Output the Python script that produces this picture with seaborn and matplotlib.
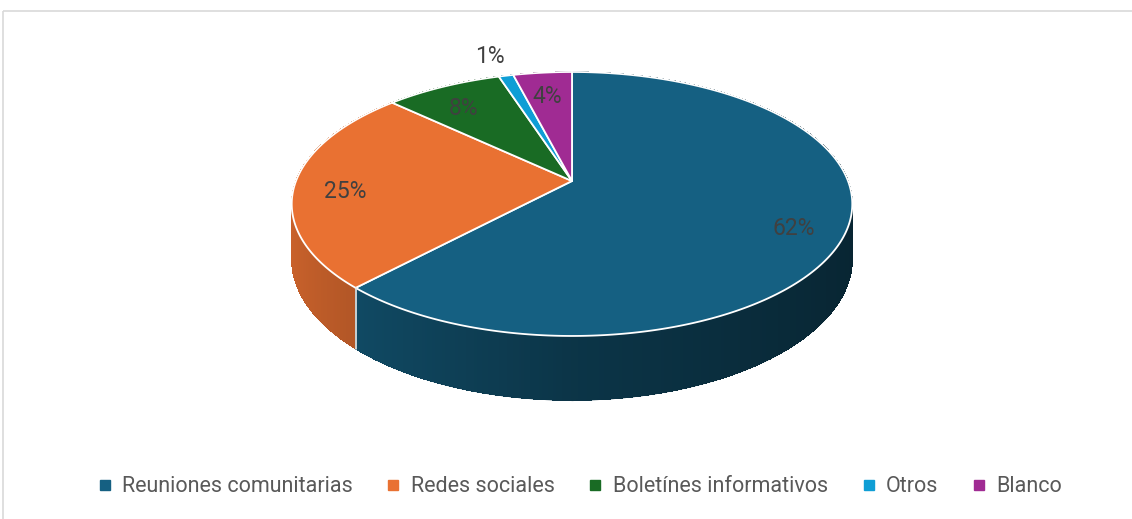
import numpy as np
import matplotlib
matplotlib.use("Agg")
import matplotlib.pyplot as plt
import matplotlib.colors as mcolors
from matplotlib.patches import Polygon, Rectangle
from matplotlib.collections import PolyCollection
from matplotlib.lines import Line2D
import seaborn as sns

# datos del grafico
categorias = ["Reuniones comunitarias", "Redes sociales", "Boletínes informativos", "Otros", "Blanco"]
porcentajes = [62, 25, 8, 1, 4]
colores = ["#156082", "#E97132", "#196B24", "#0F9ED5", "#A02B93"]

sns.set_theme(style="white")
plt.rcParams["font.family"] = ["Roboto", "DejaVu Sans"]

fig = plt.figure(figsize=(11.32, 5.19), dpi=100)
ax = fig.add_axes([0, 0, 1, 1])
ax.set_xlim(0, 1132)
ax.set_ylim(519, 0)
ax.axis("off")

# marco del grafico
ax.add_patch(Rectangle((3, 11), 1300, 700, fill=False, edgecolor="#d9d9d9", lw=1.2))

# pastel 3D con perspectiva (angulo medido en sentido horario desde arriba)
cx, cy = 572, 181
A, B, p, H = 128, 276, 0.174, 53


def proj(theta, drop=0.0, r=1.0):
    u, v = np.cos(theta), np.sin(theta)
    w = 1 + p * r * u
    return cx + r * B * v / w, cy - r * A * u / w + H * drop / w


def sombra(v):
    return np.interp(v, [-1, -0.7, 0, 0.9, 1], [0.87, 0.77, 0.55, 0.40, 0.38])


fr = np.array(porcentajes, dtype=float) / sum(porcentajes)
bordes = np.concatenate([[0], np.cumsum(fr)]) * 2 * np.pi

# paredes laterales
quads = []
for i, col in enumerate(colores):
    rgb = np.array(mcolors.to_rgb(col))
    t = np.linspace(bordes[i], bordes[i + 1], max(3, int(fr[i] * 720)))
    for a, b in zip(t[:-1], t[1:]):
        m = 0.5 * (a + b)
        pts = [proj(a), proj(b), proj(b, 1), proj(a, 1)]
        c = np.clip(rgb * sombra(np.sin(m)), 0, 1)
        quads.append((np.cos(m), pts, c))
quads.sort(key=lambda q: -q[0])
ax.add_collection(PolyCollection([q[1] for q in quads], facecolors=[q[2] for q in quads],
                                 edgecolors=[q[2] for q in quads], linewidths=0.3,
                                 antialiased=False))
# contorno inferior suavizado
tb = np.linspace(np.pi / 2 + 0.45, 3 * np.pi / 2 - 0.45, 400)
for i, col in enumerate(colores):
    seg = tb[(tb >= bordes[i]) & (tb <= bordes[i + 1])]
    if len(seg) > 1:
        xy = np.array([proj(a, 1) for a in seg])
        c = [np.clip(np.array(mcolors.to_rgb(col)) * sombra(np.sin(a)), 0, 1) for a in seg]
        for j in range(len(seg) - 1):
            ax.plot(xy[j:j + 2, 0], xy[j:j + 2, 1], color=c[j], lw=0.8, solid_capstyle="butt")

# separadores en la pared frontal
for b in bordes[1:-1]:
    if np.cos(b) < -p:
        x0, y0 = proj(b)
        x1, y1 = proj(b, 1)
        ax.plot([x0, x1], [y0, y1], color="#e8e8e8", lw=1.2)

# caras superiores
for i, col in enumerate(colores):
    t = np.linspace(bordes[i], bordes[i + 1], max(3, int(fr[i] * 720)))
    arco = [proj(a) for a in t]
    ax.add_patch(Polygon([(cx, cy)] + arco, closed=True, facecolor=col,
                         edgecolor="white", lw=1.3, joinstyle="round"))

# etiquetas de porcentaje
for i, pct in enumerate(porcentajes):
    m = 0.5 * (bordes[i] + bordes[i + 1])
    k = 1.3 if pct < 2 else 0.82
    xa, ya = proj(m, r=k)
    ax.text(xa, ya + 7, f"{pct}%", ha="center", va="center",
            fontsize=16.5, color="#404040")

# leyenda
handles = [Line2D([], [], marker="s", linestyle="none", markersize=6.5,
                  markerfacecolor=c, markeredgecolor=c) for c in colores]
fig.legend(handles, categorias, loc="center", bbox_to_anchor=(0.5125, 1 - 487 / 519),
           ncol=5, frameon=False, fontsize=15.5, labelcolor="#595959",
           handlelength=0.6, handletextpad=0.5, columnspacing=1.6)

fig.savefig("out.png", dpi=100)
